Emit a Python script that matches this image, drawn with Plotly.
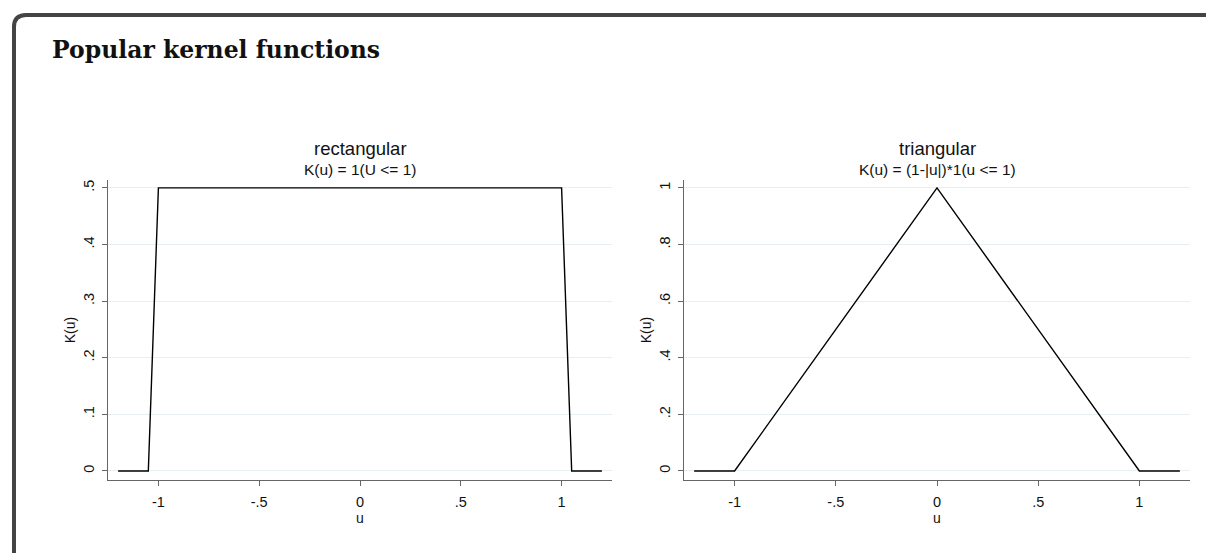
import plotly.graph_objects as go

W, H = 1206, 553

# data
rect_u = [-1.2, -1.05, -1, 1, 1.05, 1.2]
rect_k = [0, 0, 0.5, 0.5, 0, 0]
tri_u = [-1.2, -1, 0, 1, 1.2]
tri_k = [0, 0, 1, 0, 0]

x_tickvals = [-1, -0.5, 0, 0.5, 1]
x_ticktext = ["-1", "-.5", "0", ".5", "1"]
rect_yvals = [0, 0.1, 0.2, 0.3, 0.4, 0.5]
rect_ytext = ["0", ".1", ".2", ".3", ".4", ".5"]
tri_yvals = [0, 0.2, 0.4, 0.6, 0.8, 1]
tri_ytext = ["0", ".2", ".4", ".6", ".8", "1"]

titles = ["rectangular", "triangular"]
subtitles = ["K(u) = 1(U <= 1)", "K(u) = (1-|u|)*1(u <= 1)"]


def px(x):
    return x / W


def py(y):
    return 1 - y / H


fig = go.Figure()
fig.add_trace(go.Scatter(x=rect_u, y=rect_k, mode="lines", line=dict(color="black", width=1.4),
                         xaxis="x", yaxis="y", showlegend=False))
fig.add_trace(go.Scatter(x=tri_u, y=tri_k, mode="lines", line=dict(color="black", width=1.4),
                         xaxis="x2", yaxis="y2", showlegend=False))

SANS = "Liberation Sans, Arial, sans-serif"
font = dict(family=SANS, size=14.5, color="#111")
tfont = dict(family=SANS, size=14, color="#111")
ydom = [py(480), py(180)]
doms = [[px(108), px(612)], [px(684), px(1190)]]

common_x = dict(range=[-1.25, 1.25], tickvals=x_tickvals, ticktext=x_ticktext, showgrid=False,
                zeroline=False, showline=True, linecolor="#666", linewidth=1.3, ticks="outside",
                ticklen=5, tickcolor="#666", tickfont=font, ticklabelstandoff=3,
                title=dict(text="u", font=tfont, standoff=0))
common_y = dict(showgrid=True, gridcolor="#e6eff2", gridwidth=1, zeroline=False, showline=True,
                linecolor="#666", linewidth=1.3, ticks="outside", ticklen=5, tickcolor="#666",
                tickangle=-90, tickfont=font, ticklabelstandoff=2,
                title=dict(text="K(u)", font=tfont, standoff=2))

fig.update_layout(
    width=W, height=H, margin=dict(l=0, r=0, t=0, b=0, autoexpand=False),
    paper_bgcolor="white", plot_bgcolor="white",
    xaxis=dict(domain=doms[0], anchor="y", **common_x),
    yaxis=dict(domain=ydom, anchor="x", range=[-0.016, 0.514], tickvals=rect_yvals,
               ticktext=rect_ytext, **common_y),
    xaxis2=dict(domain=doms[1], anchor="y2", **common_x),
    yaxis2=dict(domain=ydom, anchor="x2", range=[-0.032, 1.028], tickvals=tri_yvals,
                ticktext=tri_ytext, **common_y),
)

for i in range(2):
    cx = (doms[i][0] + doms[i][1]) / 2
    fig.add_annotation(x=cx, y=py(149), xref="paper", yref="paper", text=titles[i], showarrow=False,
                       font=dict(family=SANS, size=18.5, color="#111"),
                       xanchor="center", yanchor="middle")
    fig.add_annotation(x=cx, y=py(170), xref="paper", yref="paper", text=subtitles[i], showarrow=False,
                       font=dict(family=SANS, size=15.5, color="#111"),
                       xanchor="center", yanchor="middle")

fig.add_annotation(x=px(50), y=py(50), xref="paper", yref="paper", text="<b>Popular kernel functions</b>",
                   showarrow=False, xanchor="left", yanchor="middle",
                   font=dict(family="DejaVu Serif, serif", size=23.5, color="#111"))

# frame with rounded top-left corner
x0, y0, r = 14, 15, 12
x1, y1 = 1230, 600
path = (f"M {px(x0)},{py(y1)} L {px(x0)},{py(y0 + r)} "
        f"Q {px(x0)},{py(y0)} {px(x0 + r)},{py(y0)} L {px(x1)},{py(y0)}")
fig.add_shape(type="path", path=path, xref="paper", yref="paper",
              line=dict(color="#444", width=4))

fig.write_html("out.html")
